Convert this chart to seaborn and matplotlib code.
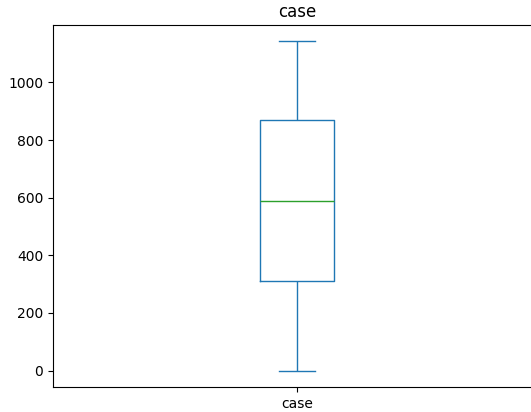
import matplotlib
matplotlib.use("Agg")
import matplotlib.pyplot as plt
import pandas as pd
import seaborn as sns

# Five-number summary of the "case" column
case_values = [0, 309, 590, 868, 1142]

df = pd.DataFrame({"case": case_values})

fig = plt.figure(figsize=(5.31, 4.12), dpi=100)
ax = fig.add_axes([0.0998, 0.0607, 0.919, 0.8786])

sns.boxplot(
    data=df,
    ax=ax,
    width=0.15,
    fill=False,
    color="#1f77b4",
    linewidth=1.0,
    whis=1.5,
    medianprops={"color": "#2ca02c", "linewidth": 1.0},
    whiskerprops={"color": "#1f77b4"},
    capprops={"color": "#1f77b4"},
)
ax.set_xlim(-0.5, 0.5)
ax.set_ylim(-57.1, 1199.1)
ax.set_title("case", fontsize=12)
ax.set_xlabel("")
ax.set_ylabel("")

fig.savefig("out.png", dpi=100)
